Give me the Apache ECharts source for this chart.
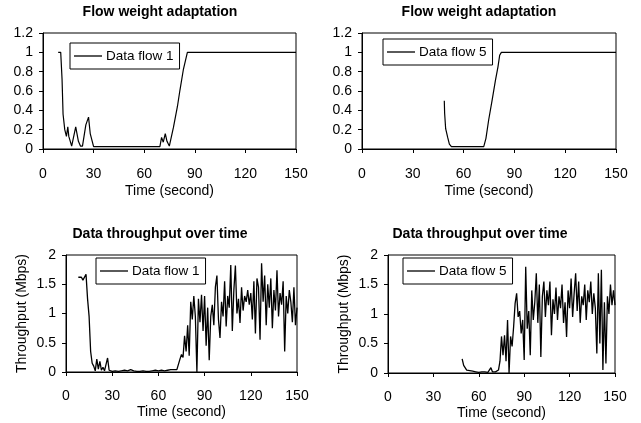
<!DOCTYPE html>
<html><head><meta charset="utf-8">
<script src="https://cdn.jsdelivr.net/npm/echarts@6/dist/echarts.min.js"></script>
<style>html,body{margin:0;padding:0;background:#fff}#c{width:641px;height:423px}</style>
</head><body><div id="c"></div>
<script>
// ---- data ----
var panelTitles = ['Flow weight adaptation', 'Flow weight adaptation', 'Data throughput over time', 'Data throughput over time'];
var seriesNames = ['Data flow 1', 'Data flow 5'];
var xTickValues = [0, 30, 60, 90, 120, 150];
var xAxisName = 'Time (second)';
var yAxisNameThroughput = 'Throughput (Mbps)';

// weight of data flow 1 (time in s, weight)
var flow1WeightT = [9, 10.5, 11.3, 11.9, 12.9, 13.9, 14.7, 15.3, 17, 19.4, 21, 22.2, 23.4, 25.4, 27, 28, 30, 69.3, 70.3, 71.3, 72.5, 73.5, 74.9, 77.3, 79.7, 81.2, 83.2, 85.6, 150];
var flow1WeightV = [1, 1, 0.72, 0.36, 0.2, 0.13, 0.23, 0.13, 0.03, 0.23, 0.08, 0.03, 0.03, 0.25, 0.33, 0.16, 0.025, 0.025, 0.12, 0.07, 0.16, 0.08, 0.03, 0.22, 0.44, 0.61, 0.82, 1, 1];

// weight of data flow 5
var flow5WeightT = [48.6, 48.8, 49.4, 50.6, 51.6, 52.8, 71.9, 73.2, 74.8, 76.8, 78.8, 80.3, 81.3, 82.3, 150];
var flow5WeightV = [0.5, 0.37, 0.21, 0.12, 0.05, 0.025, 0.025, 0.11, 0.3, 0.5, 0.71, 0.85, 0.97, 1, 1];

// throughput of data flow 1, one sample per second starting at t = 8 s
var flow1ThroughputStart = 8;
var flow1Throughput = [
  1.62, 1.60, 1.62, 1.57, 1.60, 1.67, 1.25, 0.95, 0.35, 0.15, 0.10, 0.02,
  0.22, 0.05, 0.18, 0.03, 0.08, 0.02, 0.04, 0.24, 0.03, 0.06, 0.01, 0.04,
  0.02, 0.05, 0.01, 0.04, 0.02, 0.01, 0.03, 0.01, 0.02, 0.01, 0.04, 0.01,
  0.02, 0.01, 0.01, 0.02, 0.01, 0.01, 0.02, 0.01, 0.01, 0.02, 0.01, 0.03,
  0.02, 0.05, 0.03, 0.04, 0.02, 0.04, 0.03, 0.05, 0.02, 0.04, 0.03, 0.04,
  0.04, 0.03, 0.04, 0.04, 0.04, 0.05, 0.22, 0.30, 0.25, 0.62, 0.35, 0.80,
  0.28, 1.20, 0.90, 1.30, 0.95, 0.00, 1.25, 0.85, 1.32, 0.70, 1.30, 0.45,
  1.10, 0.20, 0.95, 1.15, 0.80, 1.45, 1.65, 0.90, 0.58, 1.20, 0.95, 1.55,
  0.78, 1.30, 1.10, 1.83, 0.70, 1.40, 1.82, 1.00, 1.25, 0.84, 1.45, 1.05,
  1.30, 1.20, 1.40, 1.15, 1.35, 0.90, 1.55, 0.66, 1.60, 1.45, 0.55, 1.86,
  1.20, 1.65, 0.80, 1.50, 1.10, 1.60, 0.75, 1.40, 1.05, 1.74, 0.95, 1.35,
  1.15, 1.55, 0.35, 1.30, 1.00, 1.40, 1.20, 0.85, 1.45, 0.80, 1.10
];

// throughput of data flow 5, one sample per second starting at t = 49 s
var flow5ThroughputStart = 49;
var flow5Throughput = [
  0.24, 0.13, 0.10, 0.05, 0.02, 0.04, 0.01, 0.03, 0.01, 0.02, 0.04, 0.01,
  0.03, 0.02, 0.05, 0.02, 0.04, 0.01, 0.03, 0.09, 0.02, 0.04, 0.02, 0.03,
  0.05, 0.20, 0.62, 0.30, 0.64, 0.20, 0.90, 0.00, 0.62, 0.45, 0.78, 1.18,
  1.35, 0.95, 1.05, 0.67, 0.90, 0.22, 1.80, 0.75, 1.05, 0.30, 1.40, 0.90,
  1.20, 1.69, 0.85, 1.50, 0.27, 1.30, 1.55, 0.95, 1.40, 1.15, 1.55, 0.64,
  1.25, 1.00, 1.45, 0.90, 1.30, 1.10, 1.50, 0.85, 1.20, 0.61, 1.40, 1.10,
  1.60, 0.95, 1.35, 1.69, 1.05, 1.55, 0.85, 1.30, 1.15, 1.50, 0.90, 1.40,
  1.20, 1.55, 1.00, 1.35, 1.10, 0.33, 1.69, 0.50, 1.75, 0.05, 1.20, 0.16,
  1.30, 1.00, 1.50, 1.15, 1.40, 1.15
];

// ---- build ----
function pairs(ts, vs) { return vs.map(function (v, i) { return [ts[i], v]; }); }
function seq(start, vs) { return vs.map(function (v, i) { return [start + i, v]; }); }

var FONT = 'Liberation Sans';
var grids = [
  { left: 43, top: 33, width: 253, height: 116 },
  { left: 362, top: 33, width: 254, height: 116 },
  { left: 66, top: 255, width: 231, height: 117 },
  { left: 388, top: 255, width: 227, height: 118 }
];
var titleCenters = [[160, 5], [479, 5], [160, 227], [480, 227]];
var labelMargins = [18, 18, 17, 17];
var nameGaps = [35, 35, 33, 33];

var xAxes = grids.map(function (g, i) {
  return {
    gridIndex: i, type: 'value', min: 0, max: 150, interval: 30,
    name: xAxisName, nameLocation: 'middle', nameGap: nameGaps[i],
    nameTextStyle: { color: '#000', fontFamily: FONT, fontSize: 14 },
    axisLine: { onZero: false, lineStyle: { color: '#000', width: 1 } },
    axisTick: { show: true, length: 4, lineStyle: { color: '#000' } },
    axisLabel: { color: '#000', fontFamily: FONT, fontSize: 14, margin: labelMargins[i] },
    splitLine: { show: false }
  };
});
var yAxes = grids.map(function (g, i) {
  var top = i < 2;
  return {
    gridIndex: i, type: 'value', min: 0, max: top ? 1.2 : 2, interval: top ? 0.2 : 0.5,
    name: top ? '' : yAxisNameThroughput, nameLocation: 'middle', nameGap: 37,
    nameTextStyle: { color: '#000', fontFamily: FONT, fontSize: 14 },
    axisLine: { show: true, lineStyle: { color: '#000', width: 1 } },
    axisTick: { show: true, length: 4, lineStyle: { color: '#000' } },
    axisLabel: { color: '#000', fontFamily: FONT, fontSize: 14, margin: 10 },
    splitLine: { show: false }
  };
});

var legendBoxes = [
  { left: 70, top: 43, name: seriesNames[0] },
  { left: 383, top: 39, name: seriesNames[1] },
  { left: 96, top: 258, name: seriesNames[0] },
  { left: 403, top: 258, name: seriesNames[1] }
];

var option = {
  backgroundColor: '#fff',
  animation: false,
  title: panelTitles.map(function (t, i) {
    return { text: t, left: titleCenters[i][0], top: titleCenters[i][1], textAlign: 'center', padding: 0,
      textStyle: { color: '#000', fontFamily: FONT, fontWeight: 'bold', fontSize: 14 } };
  }),
  legend: legendBoxes.map(function (l) {
    return { data: [{ name: l.name, icon: 'rect' }], left: l.left, top: l.top, orient: 'vertical',
      borderColor: '#000', borderWidth: 1, padding: [6, 6, 6, 4], itemWidth: 28, itemHeight: 1.3, itemGap: 0,
      selectedMode: false, itemStyle: { color: '#000', borderWidth: 0 },
      textStyle: { color: '#000', fontFamily: FONT, fontSize: 13.5, padding: [0, 0, 0, -1] } };
  }),
  grid: grids.map(function (g) {
    return Object.assign({ show: true, borderColor: '#000', borderWidth: 1, backgroundColor: 'transparent' }, g);
  }),
  xAxis: xAxes,
  yAxis: yAxes,
  series: [
    { name: seriesNames[0], type: 'line', xAxisIndex: 0, yAxisIndex: 0, symbol: 'none', color: '#000',
      lineStyle: { color: '#000', width: 1.2 }, data: pairs(flow1WeightT, flow1WeightV) },
    { name: seriesNames[1], type: 'line', xAxisIndex: 1, yAxisIndex: 1, symbol: 'none', color: '#000',
      lineStyle: { color: '#000', width: 1.2 }, data: pairs(flow5WeightT, flow5WeightV) },
    { name: seriesNames[0], type: 'line', xAxisIndex: 2, yAxisIndex: 2, symbol: 'none', color: '#000',
      lineStyle: { color: '#000', width: 1.3 }, data: seq(flow1ThroughputStart, flow1Throughput) },
    { name: seriesNames[1], type: 'line', xAxisIndex: 3, yAxisIndex: 3, symbol: 'none', color: '#000',
      lineStyle: { color: '#000', width: 1.3 }, data: seq(flow5ThroughputStart, flow5Throughput) }
  ]
};
var chart = echarts.init(document.getElementById('c'), null, { renderer: 'canvas' });
chart.setOption(option);
</script></body></html>
